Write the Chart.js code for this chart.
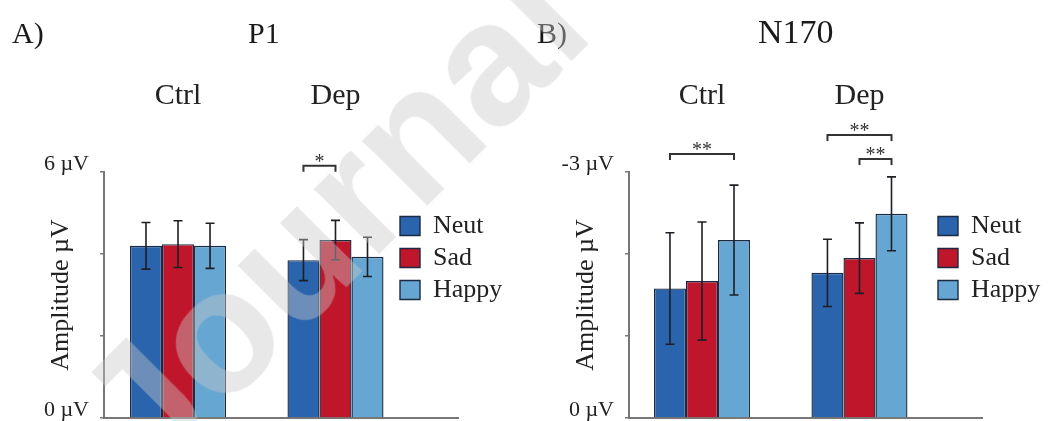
<!DOCTYPE html>
<html>
<head>
<meta charset="utf-8">
<script src="https://cdn.jsdelivr.net/npm/chart.js@4.4.1/dist/chart.umd.min.js"></script>
<style>
  body { margin: 0; background: #fff; }
  .wrap { position: relative; width: 1055px; height: 421px; overflow: hidden; }
  #p1 { position: absolute; left: 0; top: 0; }
  #n170 { position: absolute; left: 525px; top: 0; }
  .mark {
    position: absolute; left: 46px; top: 378px;
    font: bold 175px/1 'Liberation Sans', Arial, sans-serif;
    color: rgba(200, 200, 200, 0.42);
    white-space: nowrap; pointer-events: none;
    transform: rotate(-45deg); transform-origin: 0 0;
  }
</style>
</head>
<body>
<div class="wrap">
  <canvas id="p1" width="527" height="421"></canvas>
  <canvas id="n170" width="530" height="421"></canvas>
  <div class="mark">Journal Pre-proof</div>
</div>
<script>
const groups = ['Ctrl', 'Dep'];
const groupPos = [1, 2];
const conditions = ['Neut', 'Sad', 'Happy'];

// P1 mean amplitude (µV) and error
const p1Neut = [4.20, 3.85];
const p1Sad = [4.24, 4.34];
const p1Happy = [4.20, 3.93];
const p1NeutErr = [0.57, 0.50];
const p1SadErr = [0.57, 0.48];
const p1HappyErr = [0.55, 0.48];
const p1Ticks = [0, 2, 4, 6];
const p1TickLabels = ['0 µV', '', '', '6 µV'];

// N170 mean amplitude (µV, negative peak) and error
const n170Neut = [-1.58, -1.77];
const n170Sad = [-1.67, -1.95];
const n170Happy = [-2.17, -2.49];
const n170NeutErr = [0.68, 0.41];
const n170SadErr = [0.72, 0.43];
const n170HappyErr = [0.67, 0.45];
const n170Ticks = [-3, -2, -1, 0];
const n170TickLabels = ['-3 µV', '', '', '0 µV'];

const colors = ['#2a64ad', '#c0162b', '#66a6d2'];
const serif = "'Liberation Serif', 'Times New Roman', serif";

Chart.defaults.font.family = serif;
Chart.defaults.color = '#222';

// significance brackets: group index, from/to condition, height in µV
const p1Brackets = [{ group: 1, from: 0, to: 1, level: 6.15, label: '*' }];
const n170Brackets = [
  { group: 0, from: 0, to: 2, level: -3.22, label: '**' },
  { group: 1, from: 0, to: 2, level: -3.45, label: '**' },
  { group: 1, from: 1, to: 2, level: -3.16, label: '**' },
];

const decor = {
  id: 'decor',
  afterLayout(chart, args, opts) {
    const lg = chart.legend;
    const w = lg.width, h = lg.height;
    lg.left = chart.chartArea.left + opts.legendX;
    lg.top = opts.legendY;
    lg.right = lg.left + w;
    lg.bottom = lg.top + h;
  },
  afterDatasetsDraw(chart, args, opts) {
    const ctx = chart.ctx;
    const y = chart.scales.y;
    ctx.save();
    ctx.strokeStyle = '#1e1e24';
    ctx.lineWidth = 1.6;
    chart.data.datasets.forEach((ds, i) => {
      chart.getDatasetMeta(i).data.forEach((bar, g) => {
        const v = ds.data[g].y, e = ds.errors[g];
        const y1 = y.getPixelForValue(v - e);
        const y2 = y.getPixelForValue(v + e);
        ctx.beginPath();
        ctx.moveTo(bar.x, y1); ctx.lineTo(bar.x, y2);
        ctx.moveTo(bar.x - 4.5, y1); ctx.lineTo(bar.x + 4.5, y1);
        ctx.moveTo(bar.x - 4.5, y2); ctx.lineTo(bar.x + 4.5, y2);
        ctx.stroke();
      });
    });

    ctx.strokeStyle = '#333';
    ctx.lineWidth = 2;
    ctx.fillStyle = '#333';
    ctx.font = '20px ' + serif;
    ctx.textAlign = 'center';
    ctx.textBaseline = 'alphabetic';
    opts.brackets.forEach(b => {
      const x1 = chart.getDatasetMeta(b.from).data[b.group].x;
      const x2 = chart.getDatasetMeta(b.to).data[b.group].x;
      const yl = y.getPixelForValue(b.level);
      ctx.beginPath();
      ctx.moveTo(x1, yl + 6); ctx.lineTo(x1, yl); ctx.lineTo(x2, yl); ctx.lineTo(x2, yl + 6);
      ctx.stroke();
      ctx.fillText(b.label, (x1 + x2) / 2, yl + 2);
    });
    ctx.restore();
  },
  afterDraw(chart, args, opts) {
    const ctx = chart.ctx;
    ctx.save();
    ctx.fillStyle = '#1a1a1a';
    ctx.textBaseline = 'alphabetic';
    ctx.font = '30px ' + serif;
    ctx.fillText(opts.letter, 12, 43);
    ctx.font = opts.titleSize + 'px ' + serif;
    ctx.fillText(opts.title, opts.titleX, 43);
    ctx.restore();
  }
};

function makeChart(id, cfg) {
  const datasets = cfg.series.map((vals, i) => ({
    label: conditions[i],
    data: groupPos.map((x, g) => ({ x: x, y: vals[g] })),
    errors: cfg.errors[i],
    backgroundColor: colors[i],
    borderColor: '#1b2a42',
    borderWidth: 1.4,
    categoryPercentage: 0.61,
    barPercentage: 1,
  }));

  const setGroupTicks = axis => { axis.ticks = groupPos.map(v => ({ value: v })); };

  return new Chart(document.getElementById(id), {
    type: 'bar',
    data: { datasets: datasets },
    options: {
      responsive: false,
      animation: false,
      layout: { padding: { left: 0, top: 0, right: cfg.padRight, bottom: 0 } },
      scales: {
        x: {
          type: 'linear', position: 'bottom', min: cfg.xMin, max: cfg.xMax, offset: false,
          grid: { display: false, drawTicks: false },
          border: { display: true, color: '#777', width: 2 },
          ticks: { display: false },
          afterBuildTicks: setGroupTicks,
          afterFit: axis => { axis.height = 3; axis.paddingLeft = 0; axis.paddingRight = 0; },
        },
        xTop: {
          type: 'linear', position: 'top', min: cfg.xMin, max: cfg.xMax, offset: false,
          grid: { display: false, drawTicks: false },
          border: { display: false },
          ticks: {
            font: { size: 30 }, color: '#222', padding: 58, maxRotation: 0, autoSkip: false,
            callback: (v, i) => groups[i],
          },
          afterBuildTicks: setGroupTicks,
          afterFit: axis => { axis.height = 172; axis.paddingLeft = 0; axis.paddingRight = 0; },
        },
        y: {
          min: cfg.yTicks[0], max: cfg.yTicks[cfg.yTicks.length - 1], reverse: cfg.reverse,
          grid: { display: true, drawOnChartArea: false, drawTicks: true, tickLength: 4, color: '#777', lineWidth: 1.5 },
          border: { display: true, color: '#777', width: 2 },
          ticks: {
            font: { size: 22 }, color: '#222', padding: 11, labelOffset: -8,
            callback: (v, i) => cfg.yLabels[i],
          },
          title: {
            display: true, text: 'Amplitude µV', color: '#222',
            font: { size: 26 }, padding: { top: 46, bottom: 0 },
          },
          afterBuildTicks: axis => { axis.ticks = cfg.yTicks.map(v => ({ value: v })); },
          afterFit: axis => { axis.width = 104; axis.paddingTop = 0; axis.paddingBottom = 0; },
        },
      },
      plugins: {
        tooltip: { enabled: false },
        legend: {
          position: 'chartArea', align: 'start',
          labels: { boxWidth: 20, boxHeight: 19, padding: 6, font: { size: 26 }, color: '#222' },
        },
        decor: {
          legendX: cfg.legendX, legendY: 207,
          brackets: cfg.brackets,
          letter: cfg.letter, title: cfg.title, titleX: cfg.titleX, titleSize: cfg.titleSize,
        },
      },
    },
    plugins: [decor],
  });
}

makeChart('p1', {
  series: [p1Neut, p1Sad, p1Happy],
  errors: [p1NeutErr, p1SadErr, p1HappyErr],
  yTicks: p1Ticks, yLabels: p1TickLabels, reverse: false,
  xMin: 0.53, xMax: 2.778, padRight: 69,
  legendX: 290, brackets: p1Brackets,
  letter: 'A)', title: 'P1', titleX: 248, titleSize: 30,
});

makeChart('n170', {
  series: [n170Neut, n170Sad, n170Happy],
  errors: [n170NeutErr, n170SadErr, n170HappyErr],
  yTicks: n170Ticks, yLabels: n170TickLabels, reverse: true,
  xMin: 0.5365, xMax: 2.778, padRight: 73,
  legendX: 303, brackets: n170Brackets,
  letter: 'B)', title: 'N170', titleX: 233, titleSize: 34,
});
</script>
</body>
</html>
